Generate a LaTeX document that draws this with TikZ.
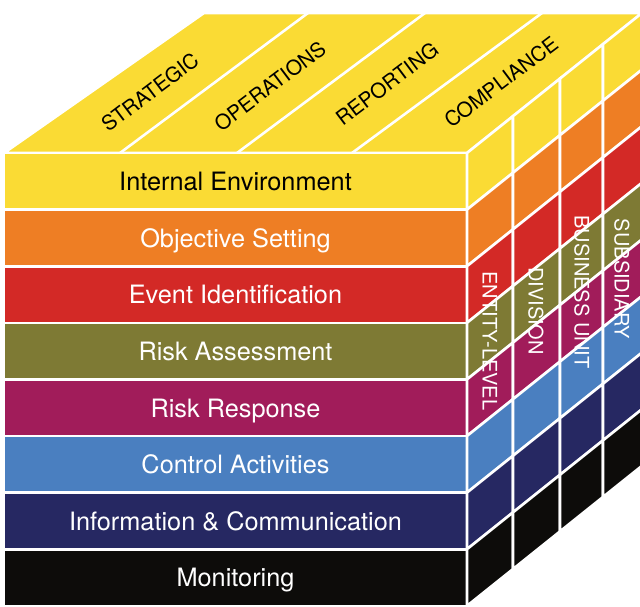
\documentclass[tikz,border=0pt]{standalone}
\usepackage{fontspec}
\setmainfont{TeX Gyre Heros}
\definecolor{cYel}{RGB}{250,219,52}
\definecolor{cOra}{RGB}{238,126,36}
\definecolor{cRed}{RGB}{211,41,38}
\definecolor{cOli}{RGB}{126,122,52}
\definecolor{cMag}{RGB}{161,28,90}
\definecolor{cBlu}{RGB}{74,127,192}
\definecolor{cNav}{RGB}{38,40,98}
\definecolor{cBlk}{RGB}{13,12,10}
\tikzset{
  face/.style={draw=white,line width=2.6pt,line join=miter},
  sepline/.style={draw=white,line width=2.6pt},
  ftext/.style={anchor=base,inner sep=0pt,font=\fontsize{25.3}{30}\selectfont,text=white},
  ttext/.style={anchor=center,inner sep=0pt,rotate=37,font=\fontsize{20.6}{24}\selectfont,text=black},
  stext/.style={anchor=center,inner sep=0pt,rotate=-90,font=\fontsize{20}{24}\selectfont,text=white}
}
\begin{document}
\begin{tikzpicture}[x=1pt,y=-1pt]
\useasboundingbox (0,0) rectangle (640,606);
\clip (0,0) rectangle (640,606);
% top face
\filldraw[face,fill=cYel] (4,153) -- (467,153) -- (642,13) -- (204,13) -- cycle;
\draw[sepline] (120,153) -- (308,13);
\draw[sepline] (237,153) -- (425,13);
\draw[sepline] (352,153) -- (542,13);
% front bands and side cells
\foreach \k/\col in {0/cYel,1/cOra,2/cRed,3/cOli,4/cMag,5/cBlu,6/cNav,7/cBlk}{
  \pgfmathsetmacro\ya{153+56.6*\k}
  \pgfmathsetmacro\yb{\ya+56.6}
  \filldraw[face,fill=\col] (4,\ya) rectangle (467,\yb);
  \foreach \xa/\xb in {467/513,513/560,560/603,603/646}{
    \filldraw[face,fill=\col] (\xa,{\ya-0.8*(\xa-467)}) -- (\xb,{\ya-0.8*(\xb-467)})
      -- (\xb,{\yb-0.8*(\xb-467)}) -- (\xa,{\yb-0.8*(\xa-467)}) -- cycle;
  }
}
% front texts
\node[ftext,text=black] (ie) at (235.5,190.6) {Internal Environment};
\node[ftext] (os) at (235.5,247.2) {Objective Setting};
\node[ftext] (ei) at (235.5,303.8) {Event Identification};
\node[ftext] (ra) at (235.5,360.4) {Risk Assessment};
\node[ftext] (rr) at (235.5,417.0) {Risk Response};
\node[ftext] (ca) at (235.5,473.6) {Control Activities};
\node[ftext] (ic) at (235.5,530.2) {Information \& Communication};
\node[ftext] (mo) at (235.5,586.8) {Monitoring};
% top texts
\node[ttext] (st) at (150,92) {STRATEGIC};
\node[ttext] (op) at (270,86) {OPERATIONS};
\node[ttext] (rp) at (387,84) {REPORTING};
\node[ttext] (co) at (501,82) {COMPLIANCE};
% side texts
\node[stext] (el) at (490,341) {ENTITY-LEVEL};
\node[stext] (dv) at (536,311) {DIVISION};
\node[stext] (bu) at (582,292) {BUSINESS UNIT};
\node[stext] (sb) at (622,279) {SUBSIDIARY};
\end{tikzpicture}
\end{document}
